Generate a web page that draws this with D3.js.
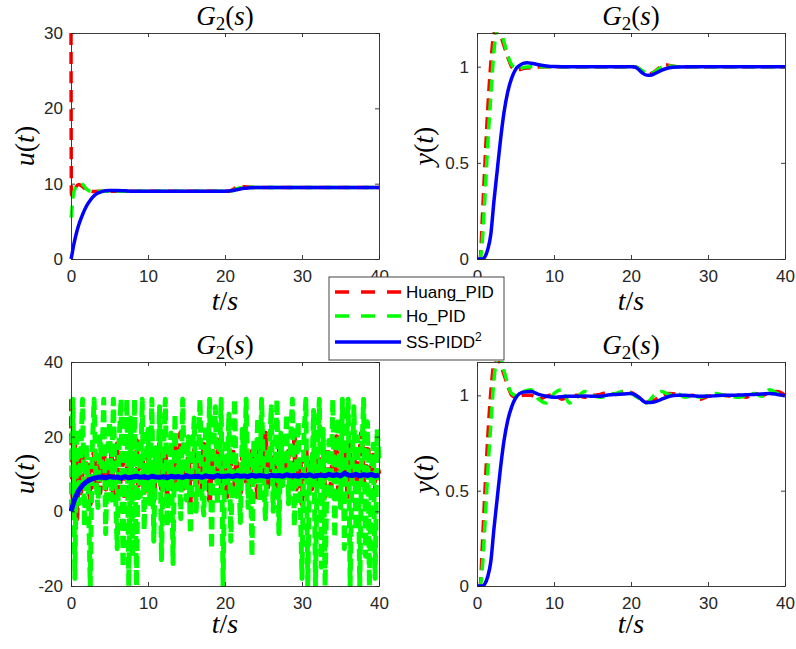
<!DOCTYPE html>
<html>
<head>
<meta charset="utf-8">
<script src="https://cdn.jsdelivr.net/npm/d3@7"></script>
<style>
  body { margin: 0; background: #fff; }
  svg { display: block; }
</style>
</head>
<body>
<svg width="796" height="649"></svg>
<script>
// ---- data ----
const xTicks = [0, 10, 20, 30, 40];
const uTicksTop = [0, 10, 20, 30];
const uTicksBottom = [-20, 0, 20, 40];
const yTicks = [0, 0.5, 1];
const seriesNames = ["Huang_PID", "Ho_PID", "SS-PIDD"];

// top-left: control signal u(t), no noise
const tU = [0, 0.05, 0.3, 0.6, 1, 1.5, 2, 2.5, 3, 3.5, 4, 4.5, 5, 5.5, 6, 7, 8, 10, 15, 20,
            20.5, 21, 21.5, 22, 22.5, 23, 24, 25, 26, 28, 30, 35, 40];
const huangU = [30, 8.5, 8.8, 9.5, 9.9, 9.6, 9.2, 9.0, 8.95, 9.0, 9.0, 9.0, 9.0, 9.0, 9.0, 9.0, 9.0, 9.0, 9.0, 9.0,
                9.0, 9.2, 9.5, 9.6, 9.6, 9.55, 9.5, 9.5, 9.5, 9.5, 9.5, 9.5, 9.5];
const hoU = [5.5, 5.8, 8.5, 9.5, 9.95, 9.9, 9.3, 9.0, 8.95, 9.0, 9.0, 9.0, 9.0, 9.0, 9.0, 9.0, 9.0, 9.0, 9.0, 9.0,
             9.0, 9.05, 9.3, 9.45, 9.5, 9.55, 9.5, 9.5, 9.5, 9.5, 9.5, 9.5, 9.5];
const ssU = [0, 0.2, 1.6, 3.0, 4.5, 5.9, 7.0, 7.8, 8.4, 8.75, 8.95, 9.05, 9.1, 9.1, 9.1, 9.05, 9.0, 9.0, 9.0, 9.0,
             9.02, 9.1, 9.2, 9.3, 9.38, 9.43, 9.48, 9.5, 9.5, 9.5, 9.5, 9.5, 9.5];

// top-right: output y(t), no noise
const tY = [0, 0.4, 0.7, 1.0, 1.4, 1.8, 2.2, 2.6, 3.0, 3.5, 4, 4.5, 5, 5.5, 6, 6.5, 7, 8, 9, 10,
            12, 15, 20, 20.5, 21, 21.5, 22, 22.5, 23, 23.5, 24, 24.5, 25, 26, 28, 30, 35, 40];
const huangY = [0, 0, 0.22, 0.47, 0.78, 1.02, 1.17, 1.2, 1.17, 1.11, 1.05, 1.0, 0.985, 0.985, 0.99, 0.993, 0.995, 0.998, 1.0, 1.0,
                1.0, 1.0, 1.0, 1.0, 0.99, 0.975, 0.965, 0.963, 0.972, 0.988, 1.003, 1.01, 1.006, 1.0, 1.0, 1.0, 1.0, 1.0];
const hoY = [0, 0, 0.1, 0.3, 0.6, 0.85, 1.08, 1.19, 1.2, 1.13, 1.06, 1.01, 0.995, 0.99, 0.995, 0.998, 1.0, 1.0, 1.0, 1.0,
             1.0, 1.0, 1.0, 1.0, 0.992, 0.978, 0.967, 0.965, 0.97, 0.985, 0.998, 1.006, 1.004, 1.0, 1.0, 1.0, 1.0, 1.0];
const ssY = [0, 0, 0, 0.01, 0.05, 0.13, 0.3, 0.45, 0.6, 0.76, 0.87, 0.94, 0.985, 1.005, 1.017, 1.02, 1.018, 1.01, 1.004, 1.001,
             1.0, 1.0, 1.0, 0.998, 0.985, 0.966, 0.956, 0.955, 0.962, 0.972, 0.982, 0.989, 0.994, 0.998, 1.0, 1.0, 1.0, 1.0];

// bottom-left: control signal u(t) with measurement noise, 0.25 s step
const tUn = d3.range(0, 40.001, 0.25);
const huangUn = [
  30, 3, 19, -2,   14, 5, 12, 17,   7, 13, 2, 11,    16, 7, 13, 5,
  10, 17, 6, 12,   8, 15, 4, 13,    18, 5, 11, 14,   3, 13, 9, 16,
  4, 12, 19, 7,    10, 15, 5, 13,   17, 7, 11, 3,    14, 9, 18, 6,
  12, 16, 4, 10,   13, 6, 17, 8,    11, 21, 5, 13,   9, 15, 2, 12,
  17, 7, 13, 10,   6, 18, 9, 14,    3, 13, 16, 8,    11, 19, 6, 13,
  9, 4, 15, 12,    17, 7, 13, 10,   5, 14, 19, 8,    12, 6, 16, 11,
  13, 3, 18, 9,    13, 21, 6, 10,   15, 8, 12, 4,    18, 11, 7, 13,
  9, 16, 5, 13,    20, 6, 10, 14,   2, 12, 17, 8,    13, 6, 19, 11,
  7, 15, 9, 13,    4, 17, 12, 6,    14, 10, 20, 5,   13, 8, 16, 11,
  3, 18, 9, 14,    12, 6, 15, 21,   7, 13, 20, 9,    11, 15, 5, 12,
  10];
const hoUn = [
  0, 30, -18, 22,    2, 14, 30, -4,     18, 5, -20, 16,    30, 8, 1, 20,
  12, 30, -6, 15,    24, 3, 30, 7,      -10, 19, 30, -15,  12, 30, -20, 25,
  -12, 30, -20, 18,  4, 30, -5, 14,     22, 2, 30, -8,     17, 9, 28, -13,
  15, 30, -4, 11,    21, -14, 26, 6,    16, -2, 30, 9,     3, 20, -6, 14,
  25, 0, 12, 30,     5, -1, 23, 10,     30, -10, 16, 28,   2, 12, 30, -20,
  18, 7, 26, -8,     14, 30, 4, 11,     -3, 22, 9, 30,     1, 16, -12, 19,
  8, 25, 3, 30,      10, -2, 17, 13,    28, 0, 15, 30,     -6, 21, 7, 12,
  26, 2, 18, 30,     -4, 11, 24, 5,     -18, 20, 30, -20,  13, 8, 27, -20,
  16, 30, -15, 22,   -20, 10, 19, 3,    30, -7, 15, 25,    1, 30, -10, 17,
  30, -20, 12, 28,   -5, 20, -20, 14,   30, -12, 24, -20,  9, 18, -18, 22,
  14];
const tSn = d3.range(0, 40.001, 0.5);
const ssUn = [
  0, 3.4, 5.6, 7.0, 7.9, 8.5, 8.9, 9.1, 9.2,
  9.0, 9.3, 9.1, 9.2, 8.9, 9.3, 9.0, 9.2,
  9.4, 9.1, 9.3, 9.0, 9.4, 9.2, 9.1, 9.3,
  9.0, 9.4, 9.2, 9.3, 9.1, 9.5, 9.2, 9.3,
  9.4, 9.1, 9.5, 9.3, 9.2, 9.6, 9.3, 9.4,
  9.5, 9.3, 9.6, 9.4, 9.5, 9.3, 9.7, 9.4,
  9.6, 9.5, 9.3, 9.7, 9.5, 9.6, 9.4, 9.8,
  9.5, 9.6, 9.4, 9.7, 9.5, 9.8, 9.4, 9.6,
  9.7, 9.5, 9.9, 9.6, 9.8, 9.5, 10.2, 9.7,
  9.6, 9.9, 9.5, 9.8, 9.6, 9.9, 9.5, 9.7];

// bottom-right: output y(t) with noise
const tYn = [0, 0.4, 0.7, 1.0, 1.4, 1.8, 2.2, 2.6, 3.0, 3.5, 4, 4.5,
             5, 6, 7, 8, 9, 10, 11, 12, 13, 14, 15, 16, 17, 18, 19, 20, 21, 22, 23, 24,
             25, 26, 27, 28, 29, 30, 31, 32, 33, 34, 35, 36, 37, 38, 39, 40];
const huangYn = [0, 0, 0.22, 0.47, 0.78, 1.02, 1.17, 1.2, 1.17, 1.11, 1.05, 1.0,
                 0.99, 1.0, 1.0, 0.98, 0.995, 1.005, 0.98, 0.995, 1.0, 0.99, 1.0, 1.005, 1.015, 1.005, 1.02, 1.015, 0.99, 0.965, 0.975, 1.0,
                 1.01, 1.005, 0.995, 1.0, 0.98, 0.995, 1.0, 1.0, 0.995, 1.0, 0.99, 1.01, 1.0, 1.015, 1.02, 1.0];
const hoYn = [0, 0, 0.1, 0.3, 0.6, 0.85, 1.08, 1.19, 1.2, 1.13, 1.06, 1.01,
              1.0, 1.02, 1.03, 0.98, 0.96, 1.01, 1.03, 0.96, 0.99, 1.02, 1.0, 0.99, 1.0, 1.01, 1.02, 1.01, 0.985, 0.96, 1.0, 1.02,
              1.005, 1.01, 0.99, 1.0, 0.99, 1.0, 1.01, 1.0, 0.995, 0.99, 1.0, 1.01, 0.995, 1.03, 1.01, 1.0];
const ssYn = [0, 0, 0, 0.01, 0.05, 0.13, 0.3, 0.45, 0.6, 0.76, 0.87, 0.94,
              0.985, 1.017, 1.02, 1.005, 0.995, 0.99, 0.993, 0.995, 0.995, 0.997, 0.995, 0.995, 1.002, 1.005, 1.007, 1.01, 0.99, 0.962, 0.965, 0.98,
              0.995, 1.0, 1.0, 0.998, 0.995, 0.996, 0.998, 1.0, 1.0, 1.002, 1.003, 1.005, 1.007, 1.01, 1.005, 0.998];

// ---- drawing ----
const svg = d3.select("svg");
const colors = ["#ff0000", "#00ff00", "#0000ff"];
const axisColor = "#262626";
const serif = "Liberation Serif, Times New Roman, serif";
const sans = "Liberation Sans, Arial, sans-serif";

const panels = [
  { id: "tl", left: 71, right: 379, top: 33, bottom: 259, yDomain: [0, 30], yTicks: uTicksTop, yLabel: "u",
    xLabelDy: 51, yLabelX: 24,
    series: [[tU, huangU], [tU, hoU], [tU, ssU]] },
  { id: "tr", left: 477, right: 785, top: 33, bottom: 259, yDomain: [0, 1.175], yTicks: yTicks, yLabel: "y",
    xLabelDy: 51, yLabelX: 423,
    series: [[tY, huangY], [tY, hoY], [tY, ssY]] },
  { id: "bl", left: 71, right: 379, top: 362, bottom: 586, yDomain: [-20, 40], yTicks: uTicksBottom, yLabel: "u",
    xLabelDy: 47, yLabelX: 24, noisy: true,
    series: [[tUn, huangUn], [tUn, hoUn], [tSn, ssUn]] },
  { id: "br", left: 477, right: 785, top: 362, bottom: 586, yDomain: [0, 1.175], yTicks: yTicks, yLabel: "y",
    xLabelDy: 47, yLabelX: 423,
    series: [[tYn, huangYn], [tYn, hoYn], [tYn, ssYn]] }
];

const defs = svg.append("defs");

panels.forEach(p => {
  const x = d3.scaleLinear().domain([0, 40]).range([p.left, p.right]);
  const y = d3.scaleLinear().domain(p.yDomain).range([p.bottom, p.top]);
  const g = svg.append("g");

  // clip to the axes box, letting the stroke spill a little sideways like MATLAB
  defs.append("clipPath").attr("id", "clip-" + p.id)
    .append("rect")
    .attr("x", p.left - 2).attr("y", p.top - 1)
    .attr("width", p.right - p.left + 4).attr("height", p.bottom - p.top + 2);

  // data lines
  const lines = g.append("g").attr("clip-path", `url(#clip-${p.id})`);
  p.series.forEach((s, i) => {
    const pts = s[0].map((t, k) => [t, s[1][k]]);
    const line = d3.line()
      .x(d => x(d[0]))
      .y(d => y(d[1]))
      .curve(p.noisy ? d3.curveLinear : d3.curveMonotoneX);
    lines.append("path")
      .attr("d", line(pts))
      .attr("fill", "none")
      .attr("stroke", colors[i])
      .attr("stroke-width", p.noisy ? (i === 2 ? 5 : 5) : 3.5)
      .attr("stroke-dasharray", i === 2 ? null : (p.noisy ? "12,5" : "12,7"))
      .attr("stroke-linejoin", "round");
  });

  // axes with inward ticks, box style
  const fmt = d => String(d);
  g.append("g").attr("transform", `translate(0,${p.bottom})`)
    .call(d3.axisBottom(x).tickValues(xTicks).tickFormat(fmt).tickSizeInner(-4).tickSizeOuter(0).tickPadding(11));
  g.append("g").attr("transform", `translate(${p.left},0)`)
    .call(d3.axisLeft(y).tickValues(p.yTicks).tickFormat(fmt).tickSizeInner(-4).tickSizeOuter(0).tickPadding(8));
  g.append("g").attr("transform", `translate(0,${p.top})`)
    .call(d3.axisTop(x).tickValues(xTicks).tickFormat("").tickSizeInner(-4).tickSizeOuter(0));
  g.append("g").attr("transform", `translate(${p.right},0)`)
    .call(d3.axisRight(y).tickValues(p.yTicks).tickFormat("").tickSizeInner(-4).tickSizeOuter(0));

  g.selectAll(".domain, .tick line").attr("stroke", axisColor).attr("stroke-width", 0.9);
  g.selectAll(".tick text")
    .attr("fill", axisColor)
    .style("font-family", sans)
    .style("font-size", "17px");

  // title G_2(s)
  const cx = (p.left + p.right) / 2;
  const title = g.append("text")
    .attr("x", cx).attr("y", p.top - 8)
    .attr("text-anchor", "middle")
    .style("font-family", serif)
    .style("font-size", "27px")
    .attr("fill", "#000");
  title.append("tspan").style("font-style", "italic").text("G");
  title.append("tspan").attr("dy", 5).style("font-size", "19px").text("2");
  title.append("tspan").attr("dy", -5).text("(");
  title.append("tspan").style("font-style", "italic").text("s");
  title.append("tspan").text(")");

  // x label t/s
  const xl = g.append("text")
    .attr("x", cx).attr("y", p.bottom + p.xLabelDy)
    .attr("text-anchor", "middle")
    .style("font-family", serif)
    .style("font-size", "28px")
    .attr("fill", "#000")
    .text("t/s");

  // y label u(t) / y(t)
  const cy = (p.top + p.bottom) / 2;
  const yl = g.append("text")
    .attr("transform", `translate(${p.yLabelX},${cy}) rotate(-90)`)
    .attr("dy", "0.35em")
    .attr("text-anchor", "middle")
    .style("font-family", serif)
    .style("font-size", "28px")
    .attr("fill", "#000");
  yl.append("tspan").style("font-style", "italic").text(p.yLabel);
  yl.append("tspan").text("(");
  yl.append("tspan").style("font-style", "italic").text("t");
  yl.append("tspan").text(")");
});

// italic t and s around an upright slash in the x labels
svg.selectAll("text").filter(function () { return this.textContent === "t/s"; })
  .each(function () {
    const el = d3.select(this).text("");
    el.append("tspan").style("font-style", "italic").text("t");
    el.append("tspan").text("/");
    el.append("tspan").style("font-style", "italic").text("s");
  });

// legend
const legend = svg.append("g").attr("transform", "translate(329,277)");
legend.append("rect")
  .attr("width", 175).attr("height", 83)
  .attr("fill", "#fff").attr("stroke", "#444").attr("stroke-width", 1);
const rowY = [15, 39, 65];
seriesNames.forEach((name, i) => {
  legend.append("line")
    .attr("x1", 6).attr("x2", 72)
    .attr("y1", rowY[i]).attr("y2", rowY[i])
    .attr("stroke", colors[i]).attr("stroke-width", 3.5)
    .attr("stroke-dasharray", i === 2 ? null : "14,12");
  const txt = legend.append("text")
    .attr("x", 77).attr("y", rowY[i] + 6)
    .style("font-family", sans)
    .style("font-size", "17px")
    .attr("fill", "#000")
    .text(name);
  if (i === 2) {
    txt.append("tspan").attr("dy", -7).style("font-size", "12px").text("2");
  }
});
</script>
</body>
</html>
